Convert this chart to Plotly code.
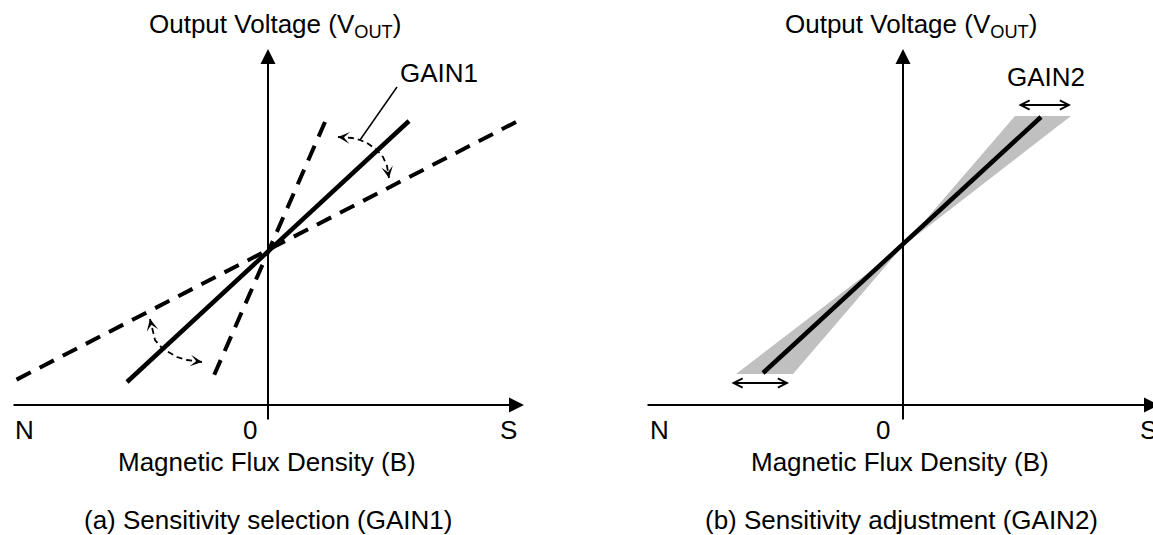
import math
import plotly.graph_objects as go

FONT = "Liberation Sans, Arial, Helvetica, sans-serif"

# ---------------- data: panel (a) sensitivity selection ----------------
# B = magnetic flux density, V = output voltage (schematic units, origin at B=0)
A_SOLID_B = [-141, 141]
A_SOLID_V = [-132, 129]
A_STEEP_B = [57, -56]
A_STEEP_V = [128, -130]
A_SHALLOW_B = [248, -258]
A_SHALLOW_V = [128, -133]
A_ARC_HI_B = [70, 84, 92, 99, 108, 115, 119, 121]
A_ARC_HI_V = [113, 112, 110, 107, 101, 93, 84, 72]
A_ARC_LO_B = [-66, -81, -91, -105, -113, -116, -118]
A_ARC_LO_V = [-112, -110, -107, -99, -90, -78, -69]
A_LEADER_B = [129, 92]
A_LEADER_V = [163, 110]

# ---------------- data: panel (b) sensitivity adjustment ----------------
B_LINE_B = [-140, 138]
B_LINE_V = [-127, 129]
B_BAND_B = [0, 112, 168, 0, -167, -110, 0]
B_BAND_V = [0, 130, 130, 0, -128, -128, 0]
B_ADJ_HI_B = [114, 168]
B_ADJ_HI_V = [141, 141]
B_ADJ_LO_B = [-173, -114]
B_ADJ_LO_V = [-137, -137]

# ---------------- text ----------------
AXIS_TEXT = ["N", "0", "S"]
Y_TITLE = "Output Voltage (V<sub>OUT</sub>)"
X_TITLE = "Magnetic Flux Density (B)"
CAPTIONS = ["(a) Sensitivity selection (GAIN1)", "(b) Sensitivity adjustment (GAIN2)"]
GAIN_TEXT = ["GAIN1", "GAIN2"]

# ---------------- layout geometry (per panel) ----------------
PANELS = [
    dict(xa="x", ya="y", xaxis_b=[-256, 256], xaxis_v=-155, yaxis_v=[-171, 201],
         lab_b=[-244, -18, 240.5], lab_v=-180, xt=(-1.5, -212), cap=(0, -270),
         yt=(7, 225), gain=(170.5, 177)),
    dict(xa="x2", ya="y2", xaxis_b=[-257, 256], xaxis_v=-159, yaxis_v=[-175, 197],
         lab_b=[-243.5, -20.5, 1148 - 903], lab_v=-184, xt=(-3, -216), cap=(-1.5, -274),
         yt=(8, 221), gain=(143, 169.5)),
]

fig = go.Figure()


def line(b, v, xa, ya, width, dash="solid", color="black"):
    fig.add_trace(go.Scatter(x=b, y=v, mode="lines", xaxis=xa, yaxis=ya,
                             line=dict(color=color, width=width, dash=dash),
                             hoverinfo="skip", showlegend=False))


# panel (a)
line(A_SHALLOW_B, A_SHALLOW_V, "x", "y", 4, "16px,10px")
line(A_STEEP_B, A_STEEP_V, "x", "y", 4, "16px,10px")
line(A_SOLID_B, A_SOLID_V, "x", "y", 4.5)
line(A_ARC_HI_B, A_ARC_HI_V, "x", "y", 1.8, "6px,4px")
line(A_ARC_LO_B, A_ARC_LO_V, "x", "y", 1.8, "6px,4px")
line(A_LEADER_B, A_LEADER_V, "x", "y", 1.5)

# panel (b)
fig.add_trace(go.Scatter(x=B_BAND_B, y=B_BAND_V, mode="lines", fill="toself",
                         fillcolor="#c0c0c0", line=dict(width=0, color="#c0c0c0"),
                         xaxis="x2", yaxis="y2", hoverinfo="skip", showlegend=False))
line(B_LINE_B, B_LINE_V, "x2", "y2", 4.5)

annotations = []


def arrow(x, y, ax, ay, xa, ya, head, size, width, both=False):
    d = dict(x=x, y=y, ax=ax, ay=ay, xref=xa, yref=ya, axref=xa, ayref=ya,
             text="", showarrow=True, arrowhead=head, arrowsize=size,
             arrowwidth=width, arrowcolor="black", standoff=0, startstandoff=0)
    if both:
        d.update(arrowside="end+start", startarrowhead=head, startarrowsize=size)
    annotations.append(d)


def text(t, x, y, xa, ya):
    annotations.append(dict(x=x, y=y, xref=xa, yref=ya, text=t, showarrow=False,
                            xanchor="center", yanchor="middle",
                            font=dict(family=FONT, size=26, color="black")))


def tip_arrow(bs, vs, xa, ya, at_start):
    if at_start:
        tb, tv, pb, pv = bs[0], vs[0], bs[1], vs[1]
    else:
        tb, tv, pb, pv = bs[-1], vs[-1], bs[-2], vs[-2]
    dx, dy = tb - pb, tv - pv
    n = math.hypot(dx, dy)
    arrow(tb, tv, tb - 5 * dx / n, tv - 5 * dy / n, xa, ya, 3, 1.15, 1.7)


for i, p in enumerate(PANELS):
    xa, ya = p["xa"], p["ya"]
    # axes
    arrow(p["xaxis_b"][1], p["xaxis_v"], p["xaxis_b"][0], p["xaxis_v"], xa, ya, 2, 1.5, 2)
    arrow(0, p["yaxis_v"][1], 0, p["yaxis_v"][0], xa, ya, 2, 1.5, 2)
    for t, b in zip(AXIS_TEXT, p["lab_b"]):
        text(t, b, p["lab_v"], xa, ya)
    text(X_TITLE, p["xt"][0], p["xt"][1], xa, ya)
    text(CAPTIONS[i], p["cap"][0], p["cap"][1], xa, ya)
    text(Y_TITLE, p["yt"][0], p["yt"][1], xa, ya)
    text(GAIN_TEXT[i], p["gain"][0], p["gain"][1], xa, ya)

# arc arrowheads (panel a)
tip_arrow(A_ARC_HI_B, A_ARC_HI_V, "x", "y", True)
tip_arrow(A_ARC_HI_B, A_ARC_HI_V, "x", "y", False)
tip_arrow(A_ARC_LO_B, A_ARC_LO_V, "x", "y", True)
tip_arrow(A_ARC_LO_B, A_ARC_LO_V, "x", "y", False)

# GAIN2 adjustment double arrows (panel b)
arrow(B_ADJ_HI_B[1], B_ADJ_HI_V[1], B_ADJ_HI_B[0], B_ADJ_HI_V[0], "x2", "y2", 5, 1.0, 1.8, both=True)
arrow(B_ADJ_LO_B[1], B_ADJ_LO_V[1], B_ADJ_LO_B[0], B_ADJ_LO_V[0], "x2", "y2", 5, 1.0, 1.8, both=True)

fig.update_layout(
    width=1153, height=535,
    margin=dict(l=0, r=0, t=0, b=0),
    paper_bgcolor="white", plot_bgcolor="white",
    showlegend=False,
    font=dict(family=FONT, size=26, color="black"),
    xaxis=dict(domain=[0, 0.5], range=[-268, 308.5], visible=False, fixedrange=True),
    yaxis=dict(domain=[0, 1], range=[-285, 250], visible=False, fixedrange=True),
    xaxis2=dict(domain=[0.5, 1], range=[-326.5, 250], visible=False, anchor="y2", fixedrange=True),
    yaxis2=dict(domain=[0, 1], range=[-289, 246], visible=False, anchor="x2", fixedrange=True),
    annotations=annotations,
)

fig.write_html("out.html", config={"displayModeBar": False})
